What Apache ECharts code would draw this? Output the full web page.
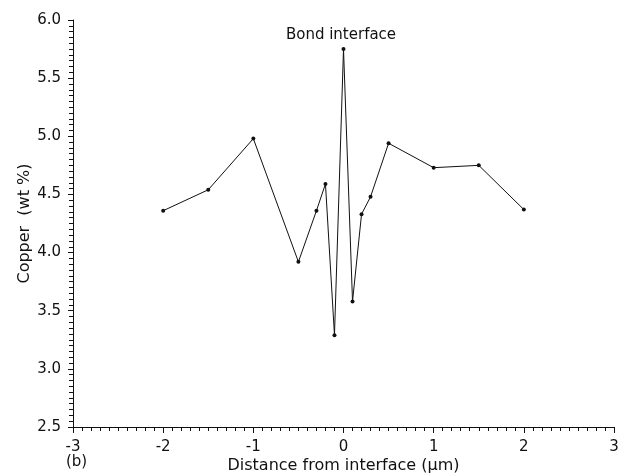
<!DOCTYPE html>
<html>
<head>
<meta charset="utf-8">
<script src="https://cdn.jsdelivr.net/npm/echarts@6/dist/echarts.min.js"></script>
<style>
  html, body { margin: 0; padding: 0; background: #fff; }
  #chart { width: 626px; height: 476px; }
</style>
</head>
<body>
<div id="chart"></div>
<script>
// distance from interface (um) and copper content (wt %)
const distance = [-2, -1.5, -1, -0.5, -0.3, -0.2, -0.1, 0, 0.1, 0.2, 0.3, 0.5, 1, 1.5, 2];
const copper = [4.36, 4.54, 4.98, 3.92, 4.36, 4.59, 3.29, 5.75, 3.58, 4.33, 4.48, 4.94, 4.73, 4.75, 4.37];

const font = 'DejaVu Sans';
const ink = '#111';

const chart = echarts.init(document.getElementById('chart'));

chart.setOption({
  animation: false,
  backgroundColor: '#fff',
  textStyle: { fontFamily: font, color: ink },
  grid: { left: 73, right: 12, top: 20, bottom: 49, outerBoundsMode: 'none' },
  title: {
    text: 'Bond interface',
    left: 336,
    top: 23,
    textAlign: 'center',
    textStyle: { fontFamily: font, fontSize: 15, fontWeight: 'normal', color: ink }
  },
  graphic: [{
    type: 'text',
    left: 66,
    top: 455,
    style: { text: '(b)', font: '15px "DejaVu Sans"', fill: ink }
  }],
  xAxis: {
    type: 'value',
    min: -3,
    max: 3,
    interval: 1,
    name: 'Distance from interface (\u00b5m)',
    nameLocation: 'middle',
    nameGap: 31,
    nameMoveOverlap: false,
    nameTextStyle: { fontSize: 16, color: ink },
    axisLine: { show: true, onZero: false, lineStyle: { color: ink, width: 1 } },
    axisTick: { show: true, length: 6, lineStyle: { color: ink } },
    minorTick: { show: true, splitNumber: 10, length: 4, lineStyle: { color: ink } },
    splitLine: { show: false },
    axisLabel: { fontSize: 15, color: ink, margin: 13 }
  },
  yAxis: {
    type: 'value',
    min: 2.5,
    max: 6,
    interval: 0.5,
    name: 'Copper  (wt %)',
    nameLocation: 'middle',
    nameGap: 40,
    nameMoveOverlap: false,
    nameTextStyle: { fontSize: 16, color: ink },
    axisLine: { show: true, onZero: false, lineStyle: { color: ink, width: 1 } },
    axisTick: { show: true, length: 5, lineStyle: { color: ink } },
    minorTick: { show: true, splitNumber: 10, length: 4, lineStyle: { color: ink } },
    splitLine: { show: false },
    axisLabel: { fontSize: 15, color: ink, margin: 12, formatter: v => v.toFixed(1) }
  },
  series: [{
    type: 'line',
    data: distance.map((d, i) => [d, copper[i]]),
    symbol: 'circle',
    symbolSize: 4,
    itemStyle: { color: ink },
    lineStyle: { color: ink, width: 1 }
  }]
});
</script>
</body>
</html>
